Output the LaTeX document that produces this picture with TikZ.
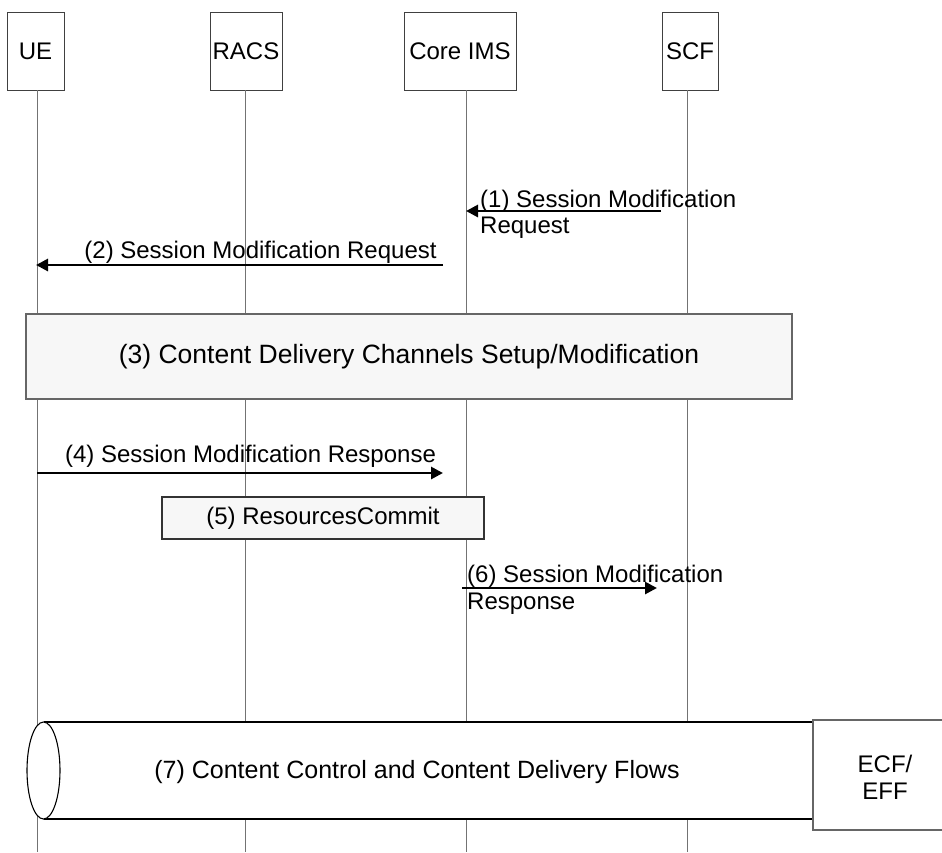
\documentclass[tikz,border=0pt]{standalone}
\usepackage{fontspec}
\setmainfont{Liberation Sans}
\usetikzlibrary{arrows.meta}
\begin{document}
\begin{tikzpicture}[x=1pt,y=-1pt,
  hdr/.style={draw=black!75,line width=0.9pt,fill=white,inner sep=0pt,minimum height=78pt,font=\fontsize{24}{27}\selectfont},
  lifeline/.style={draw=black!55,line width=0.9pt},
  msg/.style={line width=2.8pt,-{Triangle[length=12pt,width=12pt]}},
  lbl/.style={inner sep=0pt,font=\fontsize{24}{26.5}\selectfont,align=left},
  phase/.style={draw=black!60,line width=1.1pt,fill=black!3,inner sep=0pt},
  cyl/.style={draw=black,line width=1.1pt}]
\useasboundingbox (0,0) rectangle (942,852);
% headers
\node[hdr,minimum width=57pt] (ue) at (35.5,51) {UE};
\node[hdr,minimum width=72pt] (racs) at (246,51) {RACS};
\node[hdr,minimum width=112pt] (ims) at (460,51) {Core IMS};
\node[hdr,minimum width=56pt] (scf) at (690,51) {SCF};
% lifeline ends
\coordinate (ueb) at (37,852);
\coordinate (racsb) at (245,852);
\coordinate (imsb) at (466,852);
\coordinate (scfb) at (687,852);
\draw[lifeline] (ue.south -| ueb) -- (ueb);
\draw[lifeline] (racs.south -| racsb) -- (racsb);
\draw[lifeline] (ims.south -| imsb) -- (imsb);
\draw[lifeline] (scf.south -| scfb) -- (scfb);
% message 1
\coordinate (m1s) at (661,211);
\coordinate (m1e) at (466,211);
\draw[msg] (m1s) -- (m1e);
\node[lbl,anchor=north west] (l1) at (480,189.5) {(1) Session Modification\\Request};
% message 2
\coordinate (m2s) at (443,265);
\coordinate (m2e) at (36,265);
\draw[msg] (m2s) -- (m2e);
\node[lbl,anchor=base] (l2) at (260.5,258) {(2) Session Modification Request};
% phase 3
\node[phase,minimum width=766pt,minimum height=85pt,font=\fontsize{26.5}{30}\selectfont] (p3) at (409,356.5) {(3) Content Delivery Channels Setup/Modification};
% message 4
\coordinate (m4s) at (37,473);
\coordinate (m4e) at (443,473);
\draw[msg] (m4s) -- (m4e);
\node[lbl,anchor=base] (l4) at (250.5,462) {(4) Session Modification Response};
% phase 5
\node[phase,draw=black!80,minimum width=322pt,minimum height=42pt,font=\fontsize{24}{27}\selectfont] (p5) at (323,518) {(5) ResourcesCommit};
% message 6
\coordinate (m6s) at (462,588);
\coordinate (m6e) at (657,588);
\draw[msg] (m6s) -- (m6e);
\node[lbl,anchor=north west] (l6) at (467,565) {(6) Session Modification\\Response};
% cylinder 7
\fill[white] (43.5,722) rectangle (813,819);
\draw[cyl] (43.5,722) -- (813,722);
\draw[cyl] (43.5,819) -- (813,819);
\draw[cyl,fill=white] (43.5,770.5) ellipse (16.5 and 48.5);
\node[inner sep=0pt,font=\fontsize{25}{28}\selectfont] (c7) at (417,772) {(7) Content Control and Content Delivery Flows};
% ECF/EFF box
\draw[draw=black!60,line width=1.3pt,fill=white] (948,720) -- (813,720) -- (813,830) -- (948,830);
\node[inner sep=0pt,align=center,font=\fontsize{24}{27}\selectfont] (ecf) at (885,777) {ECF/\\EFF};
\end{tikzpicture}
\end{document}
